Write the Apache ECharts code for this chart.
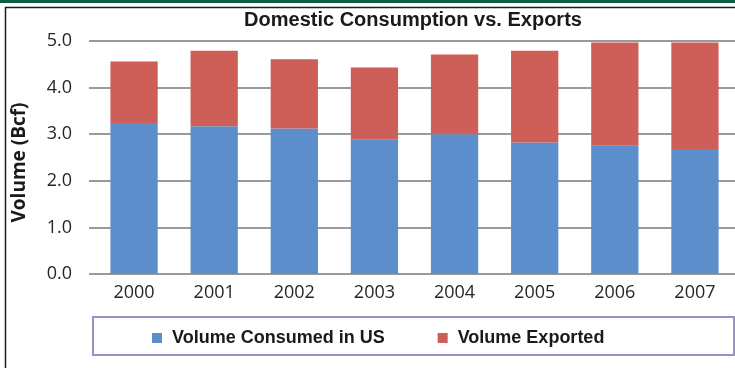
<!DOCTYPE html>
<html>
<head>
<meta charset="utf-8">
<script src="https://cdn.jsdelivr.net/npm/echarts@6/dist/echarts.min.js"></script>
<style>
html,body{margin:0;padding:0;background:#fff;}
#chart{width:735px;height:368px;}
</style>
</head>
<body>
<div id="chart"></div>
<script>
const categories = ['2000','2001','2002','2003','2004','2005','2006','2007'];
const consumedUS = [3.24, 3.17, 3.12, 2.88, 3.00, 2.82, 2.75, 2.68];
const exported   = [1.32, 1.62, 1.49, 1.55, 1.71, 1.97, 2.22, 2.29];
const yTicks = [0, 1, 2, 3, 4, 5];
const seriesNames = ['Volume Consumed in US', 'Volume Exported'];
const titleText = 'Domestic Consumption vs. Exports';
const yAxisName = 'Volume (Bcf)';

const chart = echarts.init(document.getElementById('chart'), null, {renderer:'canvas'});
const option = {
  animation: false,
  backgroundColor: '#ffffff',
  title: {
    text: titleText,
    left: 408, top: 5, textAlign: 'center',
    textStyle: {fontFamily: 'Liberation Sans', fontWeight: 'bold', fontSize: 20, color: '#1a1a1a'}
  },
  graphic: [
    {type:'rect', shape:{x:0,y:0,width:735,height:3}, style:{fill:'#0b5e45'}, silent:true},
    {type:'line', shape:{x1:5,y1:7.5,x2:735,y2:7.5}, style:{stroke:'#1a1a1a', lineWidth:1.5}, silent:true},
    {type:'line', shape:{x1:5.5,y1:7,x2:5.5,y2:368}, style:{stroke:'#1a1a1a', lineWidth:1.5}, silent:true},
    {type:'rect', shape:{x:93,y:317,width:641,height:38}, style:{fill:'none', stroke:'#9595c4', lineWidth:2}, silent:true}
  ],
  legend: {
    left: 152, top: 329, padding: 0,
    itemWidth: 10, itemHeight: 10, itemGap: 53,
    icon: 'rect',
    textStyle: {fontFamily: 'Liberation Sans', fontWeight: 'bold', fontSize: 18, color: '#1a1a1a',
      padding: [0, 0, 0, 5]},
    data: seriesNames
  },
  grid: {left: 94, top: 41, width: 643, height: 233, containLabel: false},
  xAxis: {
    type: 'category',
    data: categories,
    axisLine: {show: true, lineStyle: {color: '#9a9a9a', width: 2}},
    axisTick: {show: false},
    axisLabel: {fontFamily: 'Open Sans', fontSize: 18, color: '#262626', margin: 10}
  },
  yAxis: {
    type: 'value',
    min: yTicks[0], max: yTicks[yTicks.length-1], interval: 1,
    name: yAxisName,
    nameLocation: 'middle', nameGap: 65, nameRotate: 90,
    nameTextStyle: {fontFamily: 'Open Sans', fontWeight: 'bold', fontSize: 19, color: '#1a1a1a',
      padding: [0, 10, 0, 0]},
    axisLine: {show: false},
    axisTick: {show: true, length: 5, lineStyle: {color: '#9a9a9a', width: 2}},
    splitLine: {show: true, lineStyle: {color: '#9a9a9a', width: 2}},
    axisLabel: {fontFamily: 'Open Sans', fontSize: 18, color: '#262626', margin: 22,
      formatter: v => v.toFixed(1)}
  },
  series: [
    {name: seriesNames[0], type: 'bar', stack: 'total', data: consumedUS,
     barCategoryGap: '41%', itemStyle: {color: '#5b8ecb'}},
    {name: seriesNames[1], type: 'bar', stack: 'total', data: exported,
     barCategoryGap: '41%', itemStyle: {color: '#cd5f58'}}
  ]
};
chart.setOption(option);
</script>
</body>
</html>
